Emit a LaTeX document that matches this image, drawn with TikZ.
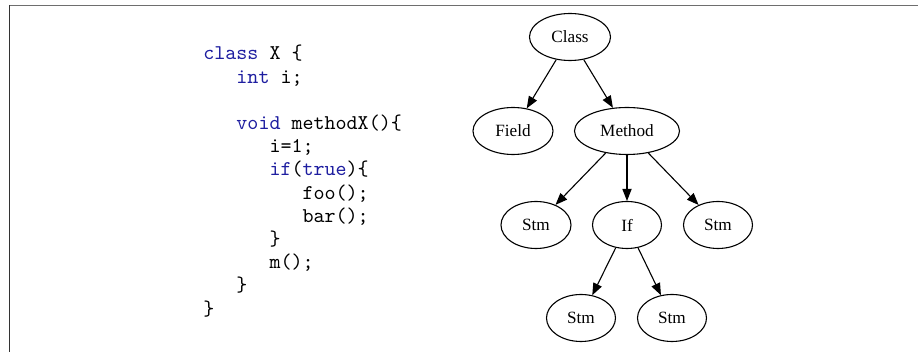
\documentclass[tikz,border=0pt]{standalone}
\usepackage{fontspec}
\usepackage{tikz}
\usetikzlibrary{arrows.meta,shapes.geometric}
\newfontfamily\treefont{Liberation Serif}
\definecolor{keywordblue}{HTML}{1E1EA0}
\definecolor{framegray}{HTML}{6E6E6E}
\newcommand{\kw}[1]{\textcolor{keywordblue}{#1}}

\begin{document}
\begin{tikzpicture}[
    x=0.5pt, y=-0.5pt,
    >={Triangle[length=6pt,width=4.6pt]},
    every node/.style={inner sep=0pt},
    astnode/.style={ellipse, draw, line width=0.55pt, minimum height=23.5pt,
        font=\treefont\fontsize{8.6}{10}\selectfont},
    astedge/.style={->, line width=0.55pt}
]
    \useasboundingbox (0,0) rectangle (918,352);

    % === FRAME ===
    \draw[framegray, line width=0.8pt] (9,5.5) -- (918,5.5);
    \draw[black!80, line width=0.8pt] (9.5,5) -- (9.5,352);

    % === SOURCE CODE ===
    \node[anchor=north west, align=left,
          font=\ttfamily\fontsize{10.5}{11.6}\selectfont] (code) at (203,45) {%
        \kw{class} X \{\\
        \ \ \ \kw{int} i;\\
        \mbox{}\\
        \ \ \ \kw{void} methodX()\{\\
        \ \ \ \ \ \ i=1;\\
        \ \ \ \ \ \ \kw{if}(\kw{true})\{\\
        \ \ \ \ \ \ \ \ \ foo();\\
        \ \ \ \ \ \ \ \ \ bar();\\
        \ \ \ \ \ \ \}\\
        \ \ \ \ \ \ m();\\
        \ \ \ \}\\
        \}};

    % === SYNTAX TREE ===
    \node[astnode, minimum width=40.5pt] (cls) at (570,37) {Class};
    \node[astnode, minimum width=40pt] (field) at (513,131) {Field};
    \node[astnode, minimum width=52.5pt] (method) at (627,131) {Method};
    \node[astnode, minimum width=35pt] (stmA) at (536,225) {Stm};
    \node[astnode, minimum width=34.5pt] (ifs) at (627,225) {If};
    \node[astnode, minimum width=34.5pt] (stmB) at (718,225) {Stm};
    \node[astnode, minimum width=34.5pt] (stmC) at (581,318) {Stm};
    \node[astnode, minimum width=34.5pt] (stmD) at (672,318) {Stm};

    \draw[astedge] (cls) -- (field);
    \draw[astedge] (cls) -- (method);
    \draw[astedge] (method) -- (stmA);
    \draw[astedge] (method) -- (ifs);
    \draw[astedge] (method) -- (stmB);
    \draw[astedge] (ifs) -- (stmC);
    \draw[astedge] (ifs) -- (stmD);
\end{tikzpicture}
\end{document}
